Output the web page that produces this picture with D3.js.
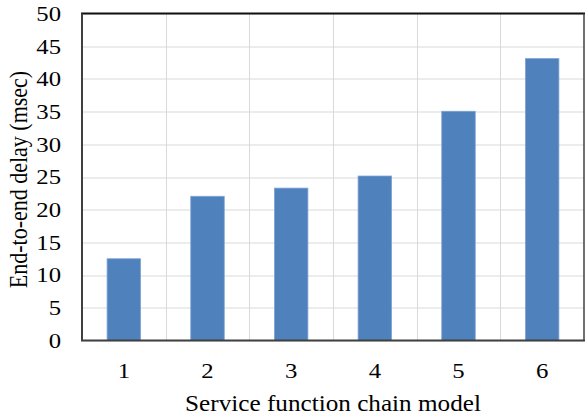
<!DOCTYPE html>
<html>
<head>
<meta charset="utf-8">
<script src="https://cdn.jsdelivr.net/npm/d3@7"></script>
<style>
  html, body { margin: 0; padding: 0; background: #fff; }
  svg { display: block; }
</style>
</head>
<body>
<svg id="chart" width="585" height="419"></svg>
<script>
// Service function chain models and their end-to-end delay (msec)
const categories = ["1", "2", "3", "4", "5", "6"];
const delays = [12.5, 22.05, 23.3, 25.15, 35.05, 43.1];
const yTicks = [0, 5, 10, 15, 20, 25, 30, 35, 40, 45, 50];

const svg = d3.select("#chart");
const margin = { left: 82, right: 1, top: 13.5, bottom: 78.5 };
const W = 585, H = 419;
const innerW = W - margin.left - margin.right;
const innerH = H - margin.top - margin.bottom;
const font = "'Liberation Serif', 'Times New Roman', serif";
const stretch = 1.15; // labels are drawn slightly wide

const g = svg.append("g").attr("transform", `translate(${margin.left},${margin.top})`);

const x = d3.scaleBand().domain(categories).range([0, innerW]).paddingInner(0.6).paddingOuter(0.3);
const xCell = d3.scaleBand().domain(categories).range([0, innerW]);
const y = d3.scaleLinear().domain([0, 50]).range([innerH, 0]);

// horizontal gridlines
g.append("g").selectAll("line").data(yTicks).join("line")
  .attr("x1", 0).attr("x2", innerW)
  .attr("y1", d => Math.round(y(d)) + 0.5).attr("y2", d => Math.round(y(d)) + 0.5)
  .attr("stroke", "#d9d9d9").attr("stroke-width", 1);

// vertical gridlines at category boundaries
g.append("g").selectAll("line").data(categories.slice(1)).join("line")
  .attr("x1", d => Math.round(xCell(d)) + 0.5).attr("x2", d => Math.round(xCell(d)) + 0.5)
  .attr("y1", 0).attr("y2", innerH)
  .attr("stroke", "#d9d9d9").attr("stroke-width", 1);

// bars
g.append("g").selectAll("rect").data(delays).join("rect")
  .attr("x", (d, i) => x(categories[i]))
  .attr("width", x.bandwidth())
  .attr("y", d => y(d))
  .attr("height", d => y(0) - y(d))
  .attr("fill", "#4f81bd")
  .attr("stroke", "#7da3d4")
  .attr("stroke-width", 0.8);

// frame
g.append("line").attr("x1", -1).attr("x2", innerW + 1).attr("y1", 0).attr("y2", 0)
  .attr("stroke", "#111").attr("stroke-width", 2);
g.append("line").attr("x1", 0).attr("x2", 0).attr("y1", 0).attr("y2", innerH)
  .attr("stroke", "#404040").attr("stroke-width", 2);
g.append("line").attr("x1", -1).attr("x2", innerW + 1).attr("y1", innerH).attr("y2", innerH)
  .attr("stroke", "#404040").attr("stroke-width", 2);
g.append("line").attr("x1", innerW).attr("x2", innerW).attr("y1", 0).attr("y2", innerH)
  .attr("stroke", "#404040").attr("stroke-width", 1.5);

// y axis labels
const yAxis = g.append("g").attr("transform", "translate(-21,0)")
  .call(d3.axisLeft(y).tickValues(yTicks).tickSize(0).tickPadding(0));
yAxis.select(".domain").remove();
yAxis.selectAll("text")
  .attr("x", 0)
  .attr("transform", `scale(${stretch},1)`)
  .attr("font-family", font).attr("font-size", 21.5).attr("fill", "#000");

// x axis labels
const xAxis = g.append("g").attr("transform", `translate(0,${innerH})`)
  .call(d3.axisBottom(xCell).tickSize(0).tickPadding(22));
xAxis.select(".domain").remove();
xAxis.selectAll("text")
  .attr("transform", `scale(${stretch},1)`)
  .attr("font-family", font).attr("font-size", 21.5).attr("fill", "#000");

// axis titles
svg.append("text")
  .attr("transform", `translate(${margin.left + innerW / 2},411) scale(1.12,1)`)
  .attr("text-anchor", "middle")
  .attr("font-family", font).attr("font-size", 22.5).attr("fill", "#000")
  .text("Service function chain model");

svg.append("text")
  .attr("transform", `translate(27,${margin.top + innerH / 2 + 2.5}) scale(1.12,1) rotate(-90)`)
  .attr("text-anchor", "middle")
  .attr("font-family", font).attr("font-size", 22).attr("fill", "#000")
  .text("End-to-end delay (msec)");
</script>
</body>
</html>
